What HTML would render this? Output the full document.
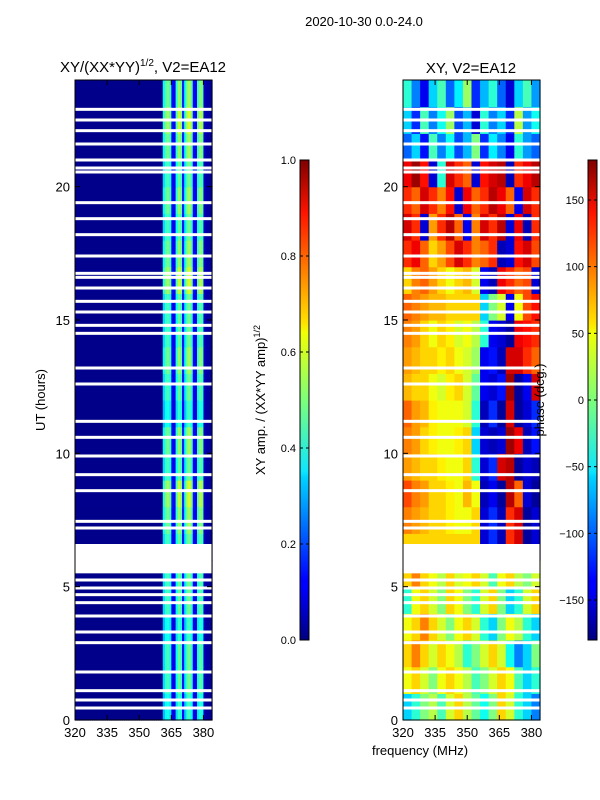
<!DOCTYPE html>
<html><head><meta charset="utf-8"><style>
body{margin:0;background:#fff;}
svg{display:block;font-family:"Liberation Sans",sans-serif;}
</style></head><body>
<svg id="fig" width="600" height="800" viewBox="0 0 600 800" xmlns="http://www.w3.org/2000/svg">
<defs>
<linearGradient id="jet" x1="0" y1="1" x2="0" y2="0">
<stop offset="0" stop-color="#00007f"/><stop offset="0.11" stop-color="#0000ff"/>
<stop offset="0.125" stop-color="#0000ff"/><stop offset="0.34" stop-color="#00d4ff"/>
<stop offset="0.35" stop-color="#0de5ff"/><stop offset="0.5" stop-color="#7dff7a"/>
<stop offset="0.64" stop-color="#f0ff06"/><stop offset="0.66" stop-color="#ffe200"/>
<stop offset="0.89" stop-color="#ff1300"/><stop offset="1" stop-color="#7f0000"/>
</linearGradient>
</defs>
<text x="364" y="26" font-size="13" text-anchor="middle">2020-10-30 0.0-24.0</text>
<g id="left"></g>
<g id="right"></g>
<text x="143" y="72" font-size="15" text-anchor="middle">XY/(XX*YY)<tspan font-size="10" dy="-6">1/2</tspan><tspan dy="6">, V2=EA12</tspan></text>
<text x="471" y="73" font-size="15" text-anchor="middle">XY, V2=EA12</text>
<text transform="translate(45,400) rotate(-90)" font-size="13" text-anchor="middle">UT (hours)</text>
<text x="420" y="755" font-size="13" text-anchor="middle">frequency (MHz)</text>
<text transform="translate(265,400) rotate(-90)" font-size="13" text-anchor="middle">XY amp. / (XX*YY amp)<tspan font-size="9" dy="-5">1/2</tspan></text>
<text transform="translate(544,400) rotate(-90)" font-size="13" text-anchor="middle">phase (deg.)</text>
<g id="cbars"></g>
</svg>
<script>
const hours=[...Array(24).keys()];
const ampChan=[0.01,0.01,0.01,0.01,0.01,0.01,0.01,0.01,0.01,0.01,0.01,0.01,0.01,0.01,0.01,0.01,0.01,0.01,0.01,0.01,0.01,0.01,0.01,0.01,0.01,0.01,0.01,0.01,0.01,0.01,0.01,0.01,0.01,0.01,0.01,0.01,0.01,0.01,0.01,0.01,0.01,0.34,0.42,0.45,0.40,0.12,0.10,0.38,0.48,0.44,0.14,0.36,0.46,0.50,0.42,0.12,0.10,0.40,0.47,0.43,0.06,0.03,0.03,0.03];
const rowGain=[0.9,1.0,1.0,0.9,1.0,1.0,1.0,1.1,1.2,1.0,1.1,0.9,1.0,1.1,1.0,1.0,1.2,1.1,1.0,1.1,1.0,1.1,1.2,1.1];
const phase=[
[-60,-30,0,20,-20,30,60,20,-10,-40,0,60,30,-30,-60,-90],
[40,60,30,0,40,60,40,20,-20,0,30,60,40,-20,-60,-30],
[60,90,60,30,60,40,20,-30,0,30,60,30,-40,-90,-60,0],
[40,60,90,60,30,0,40,60,30,-30,-60,0,40,20,-30,-60],
[-30,40,60,30,0,60,40,0,-30,30,60,0,-60,-30,30,60],
[60,90,60,40,20,60,30,40,60,30,-20,40,60,20,0,30],
[60,60,60,60,60,60,60,60,60,-150,-120,-160,120,150,-170,-150],
[90,80,70,60,60,50,40,40,60,-150,-120,-160,120,150,-170,-150],
[110,90,80,60,60,50,40,70,40,-160,-140,-170,160,100,-150,-170],
[80,70,60,60,50,40,40,60,-30,-150,-120,150,160,-170,-150,-160],
[90,80,60,50,40,40,50,60,-60,-150,-160,-150,170,140,-160,-130],
[100,80,70,50,40,40,40,30,-30,-160,-120,-170,150,-170,-150,-120],
[70,60,60,40,30,50,60,30,-10,-140,-150,-130,170,-170,-140,150],
[80,70,60,60,50,60,40,30,10,-140,-130,-160,150,150,120,100],
[90,80,60,40,60,50,30,40,20,-30,-140,-150,-170,140,130,120],
[100,90,80,70,70,60,60,60,60,-60,0,30,-140,40,110,130],
[60,90,100,80,60,40,60,70,30,-140,-160,140,120,100,110,-150],
[120,140,100,60,80,110,150,120,90,100,120,-160,-150,130,150,110],
[150,120,-150,80,120,160,100,-140,90,150,120,160,-150,140,-160,120],
[120,100,150,120,90,130,-150,140,100,120,160,140,100,-140,150,120],
[140,170,130,-150,-30,150,120,100,-150,130,150,160,-160,120,140,160],
[-100,-60,-130,-20,-90,-40,-110,-70,0,-120,-50,-90,-140,-30,-80,-100],
[-60,-120,-20,-90,-40,10,-110,-70,-150,-30,-90,-60,-120,20,-80,-40],
[-30,-90,-140,-60,-20,-100,-50,10,-120,-70,-30,-100,-150,-60,-20,-80]];
const flagTimes=[0.45,0.75,1.1,1.8,2.9,3.3,3.9,4.4,4.7,4.95,5.25,7.2,7.45,8.6,9.2,9.9,10.6,11.2,12.6,13.2,14.5,14.8,15.3,15.7,16.2,16.6,16.75,17.4,18.2,18.8,19.4,20.55,20.7,21.0,21.6,22.1,22.5,22.9];
const flagBlocks=[[5.5,6.6]];
const xTicks=[320,335,350,365,380];
const yTicks=[0,5,10,15,20];
const ampTicks=[0,0.2,0.4,0.6,0.8,1.0];
const phTicks=[-150,-100,-50,0,50,100,150];

const NS="http://www.w3.org/2000/svg";
const PT=80,PB=720,FMIN=320,FMAX=384;
const yS=h=>PB-(h/24)*(PB-PT);
function jet(v){v=Math.max(0,Math.min(1,v));
 const r=Math.min(4*v-1.5,-4*v+4.5),g=Math.min(4*v-0.5,-4*v+3.5),b=Math.min(4*v+0.5,-4*v+2.5);
 const c=x=>Math.round(255*Math.max(0,Math.min(1,x)));return `rgb(${c(r)},${c(g)},${c(b)})`;}
function mk(tag,attrs,parent){const e=document.createElementNS(NS,tag);for(const k in attrs)e.setAttribute(k,attrs[k]);parent.appendChild(e);return e;}
function panel(g,X0,X1,cellFn,nCols){
 const xS=f=>X0+(f-FMIN)/(FMAX-FMIN)*(X1-X0);
 const cw=(X1-X0)/nCols;
 hours.forEach(h=>{for(let j=0;j<nCols;j++){
  const r=mk('rect',{x:X0+j*cw,y:yS(h+1),width:cw+0.6,height:yS(h)-yS(h+1)+0.6,fill:cellFn(h,j)},g);
  
  }});
 flagTimes.forEach(t=>{const r=mk('rect',{x:X0,y:yS(t)-1.5,width:X1-X0,height:3,fill:'#fff'},g);
  
  });
 flagBlocks.forEach(b=>{const r=mk('rect',{x:X0,y:yS(b[1]),width:X1-X0,height:yS(b[0])-yS(b[1]),fill:'#fff'},g);
  
  });
 const fr=mk('rect',{x:X0,y:PT,width:X1-X0,height:PB-PT,fill:'none',stroke:'#000','stroke-width':1},g);
 
 
 xTicks.forEach(t=>{const x=xS(t);
  mk('line',{x1:x,x2:x,y1:PB,y2:PB-5,stroke:'#000'},g);mk('line',{x1:x,x2:x,y1:PT,y2:PT+5,stroke:'#000'},g);
  const tx=mk('text',{x:x,y:PB+17,'font-size':13,'text-anchor':'middle'},g);tx.textContent=t;
  
  });
 yTicks.forEach(t=>{const y=yS(t);
  mk('line',{x1:X0,x2:X0+5,y1:y,y2:y,stroke:'#000'},g);mk('line',{x1:X1,x2:X1-5,y1:y,y2:y,stroke:'#000'},g);
  const tx=mk('text',{x:X0-5,y:y+5,'font-size':13,'text-anchor':'end'},g);tx.textContent=t;
  
  });
}
panel(document.getElementById('left'),75,212,(h,j)=>jet(ampChan[j]*rowGain[h]),ampChan.length);
panel(document.getElementById('right'),403,540,(h,j)=>jet((phase[h][j]+180)/360),16);

function cbar(X,lo,hi,ticks,name){
 const g=document.getElementById('cbars');
 const r=mk('rect',{x:X,y:160,width:9,height:480,fill:'url(#jet)',stroke:'#000','stroke-width':1},g);
 
 
 ticks.forEach(t=>{const y=640-(t-lo)/(hi-lo)*480;
  mk('line',{x1:X,x2:X+3,y1:y,y2:y,stroke:'#000'},g);mk('line',{x1:X+9,x2:X+6,y1:y,y2:y,stroke:'#000'},g);
  const tx=mk('text',{x:X-4,y:y+4,'font-size':11,'text-anchor':'end'},g);
  tx.textContent=(name==='amp-colorbar')?t.toFixed(1):(t<0?'\u2212'+(-t):t);
  
  });
}
cbar(300,0,1,ampTicks,'amp-colorbar');
cbar(588,-180,180,phTicks,'phase-colorbar');
</script>
</body></html>
